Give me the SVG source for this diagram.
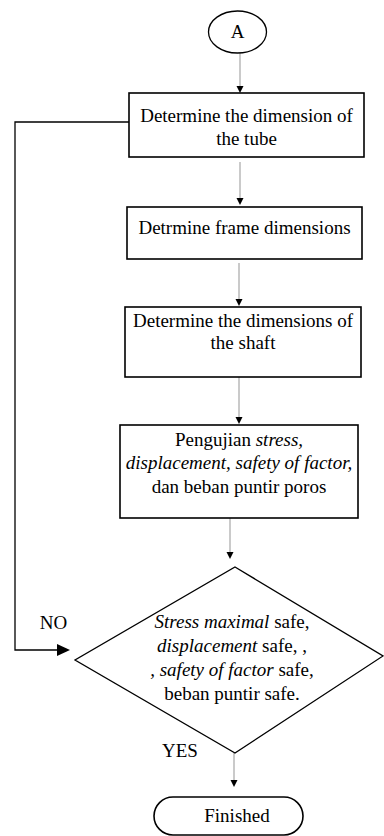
<svg xmlns="http://www.w3.org/2000/svg" width="384" height="836" viewBox="0 0 384 836">
<style>
.t{font-family:"Liberation Serif","Times New Roman",serif;font-size:19px;fill:#000;text-anchor:middle}
.i{font-style:italic}
.box{fill:#fff;stroke:#000;stroke-width:1.6}
.ln{stroke:#bdbdbd;stroke-width:1.6;fill:none}
.ah{fill:#000}
.fb{stroke:#000;stroke-width:1.3;fill:none}
</style>
<rect width="384" height="836" fill="#fff"/>
<g id="connectors">
<line class="ln" x1="240" y1="53" x2="240" y2="87"/>
<path class="ah" d="M236.5,86 L243.5,86 L240,93 Z"/>
<line class="ln" x1="240" y1="162" x2="240" y2="199"/>
<path class="ah" d="M236.5,198 L243.5,198 L240,205 Z"/>
<line class="ln" x1="239" y1="263" x2="239" y2="300"/>
<path class="ah" d="M235.5,299 L242.5,299 L239,306 Z"/>
<line class="ln" x1="239" y1="377" x2="239" y2="418"/>
<path class="ah" d="M235.5,417 L242.5,417 L239,424 Z"/>
<line class="ln" x1="230" y1="518" x2="230" y2="553"/>
<path class="ah" d="M226.5,552 L233.5,552 L230,559 Z"/>
<line class="ln" x1="234" y1="753" x2="234" y2="781"/>
<path class="ah" d="M230.5,780 L237.5,780 L234,787 Z"/>
<polyline class="fb" points="129,122 15,122 15,650 58,650"/>
<path class="ah" d="M57,644 L70,650 L57,656 Z"/>
</g>
<g id="start">
<ellipse cx="237.5" cy="32" rx="29" ry="21" fill="#fff" stroke="#000" stroke-width="1.3"/>
<text class="t" x="237.5" y="38">A</text>
</g>
<g id="tube">
<rect class="box" x="129" y="93" width="235" height="64"/>
<text class="t" x="246.5" y="122">Determine the dimension of</text>
<text class="t" x="246.5" y="145">the tube</text>
</g>
<g id="frame">
<rect class="box" x="127" y="207" width="235" height="52"/>
<text class="t" x="244.5" y="234">Detrmine frame dimensions</text>
</g>
<g id="shaft">
<rect class="box" x="125" y="307" width="236" height="70"/>
<text class="t" x="243" y="327">Determine the dimensions of</text>
<text class="t" x="243" y="349">the shaft</text>
</g>
<g id="test">
<rect class="box" x="120" y="425" width="238" height="93"/>
<text class="t" x="239" y="446">Pengujian <tspan class="i">stress,</tspan></text>
<text class="t i" x="239" y="469">displacement, safety of factor,</text>
<text class="t" x="239" y="493">dan beban puntir poros</text>
</g>
<g id="decision">
<polygon points="235,567 383,656 235,753 75,660" fill="#fff" stroke="#000" stroke-width="1.3"/>
<text class="t" x="232" y="628"><tspan class="i">Stress maximal</tspan> safe,</text>
<text class="t" x="232" y="652"><tspan class="i">displacement</tspan> safe, ,</text>
<text class="t" x="232" y="676"><tspan class="i">, safety of factor</tspan> safe,</text>
<text class="t" x="232" y="700">beban puntir safe.</text>
</g>
<g id="labels">
<text class="t" x="53.5" y="629">NO</text>
<text class="t" x="180" y="757">YES</text>
</g>
<g id="finished">
<rect x="154" y="797" width="149" height="38" rx="19" ry="19" fill="#fff" stroke="#000" stroke-width="1.6"/>
<text class="t" x="237" y="822">Finished</text>
</g>
</svg>
